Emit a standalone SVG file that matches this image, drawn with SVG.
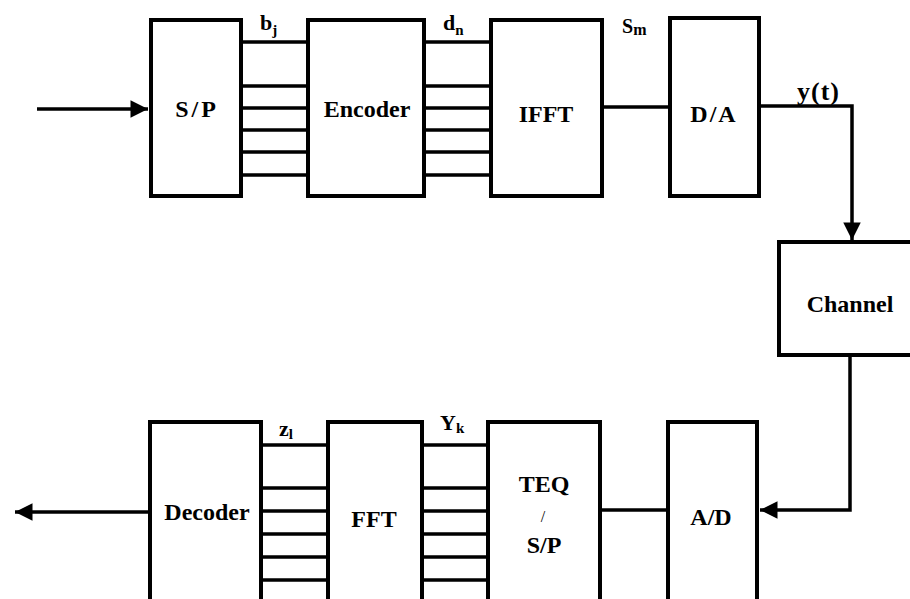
<svg xmlns="http://www.w3.org/2000/svg" width="910" height="599" viewBox="0 0 910 599">
<defs>
<style>
.box{fill:#fff;stroke:#000;stroke-width:4}
.ln{stroke:#000;stroke-width:3.5;fill:none}
text{font-family:'Liberation Serif','Times New Roman','DejaVu Serif',serif;font-weight:bold;fill:#000}
.t{font-size:24px;text-anchor:middle}
.lb{font-size:22px}
.sub{font-size:15px}
</style>
<marker id="ah" viewBox="0 0 10 10" refX="10" refY="5" markerWidth="7.5" markerHeight="5" markerUnits="strokeWidth" orient="auto">
<path d="M0,0 L10,5 L0,10 z" fill="#000"/>
</marker>
</defs>
<rect width="910" height="599" fill="#fff"/>
<g id="connectors">
<line class="ln" x1="37" y1="109" x2="148" y2="109" marker-end="url(#ah)"/>
<g class="ln">
<path d="M241 42H308M241 86H308M241 108H308M241 130H308M241 152H308M241 175H308"/>
<path d="M424 42H491M424 86H491M424 108H491M424 130H491M424 152H491M424 175H491"/>
<path d="M602 107H670"/>
<path d="M262 445H328M262 488H328M262 511H328M262 534H328M262 557H328M262 580H328"/>
<path d="M422 445H488M422 488H488M422 511H488M422 534H488M422 557H488M422 580H488"/>
<path d="M600 510H668"/>
</g>
<path class="ln" d="M759 106H852V240" marker-end="url(#ah)"/>
<path class="ln" d="M850 355V510H760" marker-end="url(#ah)"/>
<line class="ln" x1="150" y1="512" x2="15" y2="512" marker-end="url(#ah)"/>
</g>
<g id="sp"><rect class="box" x="151" y="20" width="90" height="176"/><text class="t" x="197" y="117" letter-spacing="3" font-family="Liberation Serif, serif">S/P</text></g>
<g id="encoder"><rect class="box" x="308" y="20" width="116" height="176"/><text class="t" x="367" y="117" font-family="Liberation Serif, serif">Encoder</text></g>
<g id="ifft"><rect class="box" x="491" y="20" width="111" height="176"/><text class="t" x="546" y="122" font-family="Liberation Serif, serif">IFFT</text></g>
<g id="da"><rect class="box" x="670" y="18" width="89" height="178"/><text class="t" x="714" y="122" letter-spacing="2" font-family="Liberation Serif, serif">D/A</text></g>
<g id="channel"><rect class="box" x="779" y="242" width="140" height="113"/><text class="t" x="850" y="312" font-family="Liberation Serif, serif">Channel</text></g>
<g id="decoder"><rect class="box" x="150" y="422" width="111" height="190"/><text class="t" x="207" y="520" font-family="Liberation Serif, serif">Decoder</text></g>
<g id="fft"><rect class="box" x="328" y="422" width="94" height="190"/><text class="t" x="374" y="527" font-family="Liberation Serif, serif">FFT</text></g>
<g id="teq"><rect class="box" x="488" y="422" width="112" height="190"/><text class="t" x="544" y="492" font-family="Liberation Serif, serif">TEQ</text><text class="t" x="543" y="522" style="font-weight:normal;font-size:16px" font-family="Liberation Serif, serif">/</text><text class="t" x="544" y="553" font-family="Liberation Serif, serif">S/P</text></g>
<g id="ad"><rect class="box" x="668" y="422" width="89" height="190"/><text class="t" x="711" y="525" font-family="Liberation Serif, serif">A/D</text></g>
<g id="labels" font-family="Liberation Serif, serif">
<text class="lb" x="260" y="30">b<tspan class="sub" dy="5">j</tspan></text>
<text class="lb" x="443" y="30">d<tspan class="sub" dy="5">n</tspan></text>
<text class="lb" x="622" y="33" style="font-size:20px">S<tspan style="font-size:16px" dy="2">m</tspan></text>
<text class="lb" x="797" y="100" style="font-size:26px" letter-spacing="1">y(t)</text>
<text class="lb" x="279" y="436">z<tspan class="sub" dy="3">l</tspan></text>
<text class="lb" x="440" y="430">Y<tspan class="sub" dy="3">k</tspan></text>
</g>
</svg>
